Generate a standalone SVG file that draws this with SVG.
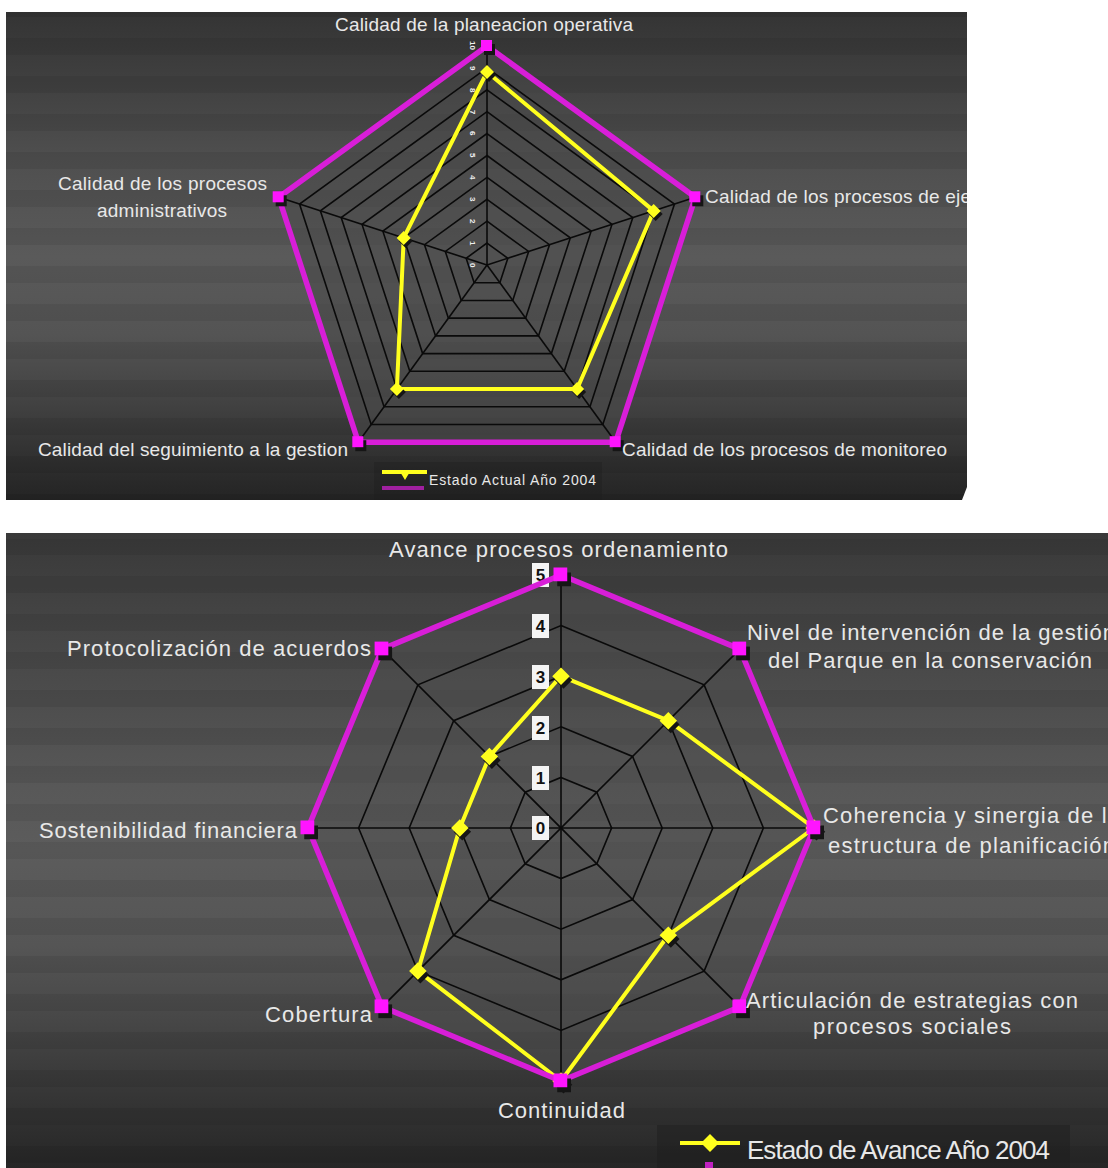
<svg xmlns="http://www.w3.org/2000/svg" xmlns:xlink="http://www.w3.org/1999/xlink" width="1108" height="1168" viewBox="0 0 1108 1168">
<style>
.lbl{font-family:"Liberation Sans",Arial,sans-serif;fill:#e8e8e8;}
.l1{font-size:19px;}
.l2{font-size:22px;}
.ring{fill:none;stroke:#0a0a0a;stroke-width:1.6;}
.spoke{stroke:#0a0a0a;stroke-width:1.6;}
.mag{fill:none;stroke:#d81ed8;stroke-width:5.5;stroke-linejoin:round;}
.yel{fill:none;stroke:#ffff1e;stroke-width:4;stroke-linejoin:round;}
.tick{font-family:"Liberation Sans",Arial,sans-serif;font-size:8px;font-weight:bold;fill:#f0f0f0;}
.tick2{font-family:"Liberation Sans",Arial,sans-serif;font-size:17px;font-weight:bold;fill:#111;}
</style>
<defs>
<linearGradient id="bg1" x1="0" y1="0" x2="0" y2="1">
<stop offset="0" stop-color="#343434"/><stop offset="0.12" stop-color="#3e3e3e"/><stop offset="0.3" stop-color="#4f4f4f"/><stop offset="0.5" stop-color="#5a5a5a"/><stop offset="0.66" stop-color="#545454"/><stop offset="0.8" stop-color="#424242"/><stop offset="0.92" stop-color="#2f2f2f"/><stop offset="1" stop-color="#242424"/>
</linearGradient>
<linearGradient id="bg2" x1="0" y1="0" x2="0" y2="1">
<stop offset="0" stop-color="#393939"/><stop offset="0.12" stop-color="#434343"/><stop offset="0.25" stop-color="#4c4c4c"/><stop offset="0.4" stop-color="#585858"/><stop offset="0.5" stop-color="#5c5c5c"/><stop offset="0.65" stop-color="#555555"/><stop offset="0.76" stop-color="#484848"/><stop offset="0.87" stop-color="#383838"/><stop offset="1" stop-color="#262626"/>
</linearGradient>
<pattern id="stripes" width="20" height="38" patternUnits="userSpaceOnUse">
<rect width="20" height="17" fill="#000" opacity="0.07"/>
</pattern>
<clipPath id="clip1"><rect x="6" y="12" width="961" height="488"/></clipPath>
<polygon id="pent" points="0,-219 208.3,-67.7 128.7,177.2 -128.7,177.2 -208.3,-67.7" vector-effect="non-scaling-stroke"/>
<polygon id="oct" points="0,-253 178.9,-178.9 253,0 178.9,178.9 0,253 -178.9,178.9 -253,0 -178.9,-178.9" vector-effect="non-scaling-stroke"/>
<g id="mkM"><rect x="-3" y="-2" width="11" height="11" fill="#151515"/><rect x="-6" y="-6" width="11" height="11" fill="#ff14ff"/></g>
<g id="mkY"><path d="M2,-4 L9,3 L2,10 L-5,3Z" fill="#151515"/><path d="M0,-7 L7,0 L0,7 L-7,0Z" fill="#ffff1e"/></g>
</defs>

<!-- Chart 1 -->
<g id="chart1" clip-path="url(#clip1)">
<g id="c1-background">
<rect x="6" y="12" width="961" height="488" fill="url(#bg1)"/>
<rect x="6" y="12" width="961" height="488" fill="url(#stripes)"/>
</g>
<g id="c1-grid">
<use href="#pent" transform="translate(487 265)" fill="#4a4a4a" fill-opacity="0.55" stroke="none"/>
<use href="#pent" class="ring" transform="translate(487 265) scale(0.1)"/>
<use href="#pent" class="ring" transform="translate(487 265) scale(0.2)"/>
<use href="#pent" class="ring" transform="translate(487 265) scale(0.3)"/>
<use href="#pent" class="ring" transform="translate(487 265) scale(0.4)"/>
<use href="#pent" class="ring" transform="translate(487 265) scale(0.5)"/>
<use href="#pent" class="ring" transform="translate(487 265) scale(0.6)"/>
<use href="#pent" class="ring" transform="translate(487 265) scale(0.7)"/>
<use href="#pent" class="ring" transform="translate(487 265) scale(0.8)"/>
<use href="#pent" class="ring" transform="translate(487 265) scale(0.9)"/>
<use href="#pent" class="ring" transform="translate(487 265)"/>
</g>
<g id="c1-connectors">
<line class="spoke" x1="487" y1="265" x2="487" y2="46"/>
<line class="spoke" x1="487" y1="265" x2="695.3" y2="197.3"/>
<line class="spoke" x1="487" y1="265" x2="615.7" y2="442.2"/>
<line class="spoke" x1="487" y1="265" x2="358.3" y2="442.2"/>
<line class="spoke" x1="487" y1="265" x2="278.7" y2="197.3"/>
</g>
<g id="c1-ticks" class="tick">
<text transform="translate(470 263) rotate(90)">0</text>
<text transform="translate(470 241) rotate(90)">1</text>
<text transform="translate(470 219) rotate(90)">2</text>
<text transform="translate(470 197) rotate(90)">3</text>
<text transform="translate(470 175) rotate(90)">4</text>
<text transform="translate(470 153) rotate(90)">5</text>
<text transform="translate(470 131) rotate(90)">6</text>
<text transform="translate(470 110) rotate(90)">7</text>
<text transform="translate(470 88) rotate(90)">8</text>
<text transform="translate(470 66) rotate(90)">9</text>
<text transform="translate(470 41) rotate(90)">10</text>
</g>
<g id="c1-series-2004">
<polygon class="yel" points="487,72 653.7,210.9 577.1,389 396.9,389 403.7,237.9"/>
<use href="#mkY" x="487" y="72"/>
<use href="#mkY" x="653.7" y="210.9"/>
<use href="#mkY" x="577.1" y="389"/>
<use href="#mkY" x="396.9" y="389"/>
<use href="#mkY" x="403.7" y="237.9"/>
</g>
<g id="c1-series-max">
<polygon class="mag" points="487,46 695.3,197.3 615.7,442.2 358.3,442.2 278.7,197.3"/>
<use href="#mkM" x="487" y="46"/>
<use href="#mkM" x="695.3" y="197.3"/>
<use href="#mkM" x="615.7" y="442.2"/>
<use href="#mkM" x="358.3" y="442.2"/>
<use href="#mkM" x="278.7" y="197.3"/>
</g>
<g id="c1-axis-planeacion"><text class="lbl l1" x="335" y="31" textLength="298">Calidad de la planeacion operativa</text></g>
<g id="c1-axis-ejecucion"><text class="lbl l1" x="705" y="203" textLength="266">Calidad de los procesos de eje</text></g>
<g id="c1-axis-monitoreo"><text class="lbl l1" x="622" y="456" textLength="325">Calidad de los procesos de monitoreo</text></g>
<g id="c1-axis-seguimiento"><text class="lbl l1" x="38" y="456" textLength="310">Calidad del seguimiento a la gestion</text></g>
<g id="c1-axis-administrativos">
<text class="lbl l1" x="58" y="190" textLength="209">Calidad de los procesos</text>
<text class="lbl l1" x="97" y="217" textLength="130">administrativos</text>
</g>
<g id="c1-legend">
<rect x="374" y="462" width="228" height="38" fill="#1e1e1e" opacity="0.35"/>
<line x1="382" y1="472" x2="427" y2="472" stroke="#ffff1e" stroke-width="4"/>
<path d="M399,470 L411,470 L405,480Z" fill="#ffff1e"/>
<line x1="382" y1="488" x2="424" y2="488" stroke="#c020c0" stroke-width="4" opacity="0.8"/>
<text class="lbl" x="429" y="485" font-size="14" textLength="167">Estado Actual Año 2004</text>
</g>
<path d="M962,500 L967,500 L967,487Z" fill="#ffffff"/>
</g>

<!-- Chart 2 -->
<g id="chart2">
<g id="c2-background">
<rect x="6" y="533" width="1102" height="635" fill="url(#bg2)"/>
<rect x="6" y="533" width="1102" height="635" fill="url(#stripes)" transform="translate(0 6)"/>
</g>
<g id="c2-grid">
<use href="#oct" transform="translate(561 828)" fill="#4e4e4e" fill-opacity="0.45" stroke="none"/>
<use href="#oct" class="ring" transform="translate(561 828) scale(0.2)"/>
<use href="#oct" class="ring" transform="translate(561 828) scale(0.4)"/>
<use href="#oct" class="ring" transform="translate(561 828) scale(0.6)"/>
<use href="#oct" class="ring" transform="translate(561 828) scale(0.8)"/>
<use href="#oct" class="ring" transform="translate(561 828)"/>
</g>
<g id="c2-connectors">
<line class="spoke" x1="561" y1="575" x2="561" y2="1081" stroke-width="2.2"/>
<line class="spoke" x1="308" y1="828" x2="814" y2="828" stroke-width="2"/>
<line class="spoke" x1="382.1" y1="649.1" x2="739.9" y2="1006.9"/>
<line class="spoke" x1="739.9" y1="649.1" x2="382.1" y2="1006.9"/>
</g>
<g id="c2-ticks">
<rect x="532" y="816" width="17" height="24" fill="#f4f4f4"/><text class="tick2" x="540.5" y="834" text-anchor="middle">0</text>
<rect x="532" y="766" width="17" height="24" fill="#f4f4f4"/><text class="tick2" x="540.5" y="784" text-anchor="middle">1</text>
<rect x="532" y="716" width="17" height="24" fill="#f4f4f4"/><text class="tick2" x="540.5" y="734" text-anchor="middle">2</text>
<rect x="532" y="665" width="17" height="24" fill="#f4f4f4"/><text class="tick2" x="540.5" y="683" text-anchor="middle">3</text>
<rect x="532" y="614" width="17" height="24" fill="#f4f4f4"/><text class="tick2" x="540.5" y="632" text-anchor="middle">4</text>
<rect x="532" y="563" width="17" height="24" fill="#f4f4f4"/><text class="tick2" x="540.5" y="581" text-anchor="middle">5</text>
</g>
<g id="c2-series-2004">
<polygon class="yel" stroke-width="5" points="561,676.2 668.3,720.7 814,828 668.3,935.3 561,1081 417.9,971.1 459.8,828 489.4,756.4"/>
<use href="#mkY" transform="translate(561 676.2) scale(1.25)"/>
<use href="#mkY" transform="translate(668.3 720.7) scale(1.25)"/>
<use href="#mkY" transform="translate(814 828) scale(1.25)"/>
<use href="#mkY" transform="translate(668.3 935.3) scale(1.25)"/>
<use href="#mkY" transform="translate(561 1081) scale(1.25)"/>
<use href="#mkY" transform="translate(417.9 971.1) scale(1.25)"/>
<use href="#mkY" transform="translate(459.8 828) scale(1.25)"/>
<use href="#mkY" transform="translate(489.4 756.4) scale(1.25)"/>
</g>
<g id="c2-series-max">
<polygon class="mag" stroke-width="6.5" points="561,575 739.9,649.1 814,828 739.9,1006.9 561,1081 382.1,1006.9 308,828 382.1,649.1"/>
<use href="#mkM" transform="translate(561 575) scale(1.25)"/>
<use href="#mkM" transform="translate(739.9 649.1) scale(1.25)"/>
<use href="#mkM" transform="translate(814 828) scale(1.25)"/>
<use href="#mkM" transform="translate(739.9 1006.9) scale(1.25)"/>
<use href="#mkM" transform="translate(561 1081) scale(1.25)"/>
<use href="#mkM" transform="translate(382.1 1006.9) scale(1.25)"/>
<use href="#mkM" transform="translate(308 828) scale(1.25)"/>
<use href="#mkM" transform="translate(382.1 649.1) scale(1.25)"/>
</g>
<g id="c2-axis-ordenamiento"><text class="lbl l2" x="389" y="557" textLength="339">Avance procesos ordenamiento</text></g>
<g id="c2-axis-intervencion">
<text class="lbl l2" x="747" y="640" textLength="368">Nivel de intervención de la gestión</text>
<text class="lbl l2" x="768" y="668" textLength="324">del Parque en la conservación</text>
</g>
<g id="c2-axis-coherencia">
<text class="lbl l2" x="823" y="823" textLength="297">Coherencia y sinergia de la</text>
<text class="lbl l2" x="828" y="853" textLength="287">estructura de planificación</text>
</g>
<g id="c2-axis-articulacion">
<text class="lbl l2" x="746" y="1008" textLength="332">Articulación de estrategias con</text>
<text class="lbl l2" x="813" y="1034" textLength="198">procesos sociales</text>
</g>
<g id="c2-axis-continuidad"><text class="lbl l2" x="498" y="1118" textLength="127">Continuidad</text></g>
<g id="c2-axis-cobertura"><text class="lbl l2" x="265" y="1022" textLength="107">Cobertura</text></g>
<g id="c2-axis-sostenibilidad"><text class="lbl l2" x="39" y="838" textLength="258">Sostenibilidad financiera</text></g>
<g id="c2-axis-protocolizacion"><text class="lbl l2" x="67" y="656" textLength="304">Protocolización de acuerdos</text></g>
<g id="c2-legend">
<rect x="657" y="1125" width="413" height="43" fill="#1c1c1c" opacity="0.45"/>
<line x1="680" y1="1143" x2="740" y2="1143" stroke="#ffff1e" stroke-width="4"/>
<path d="M710,1134 L719,1143 L710,1152 L701,1143Z" fill="#ffff1e"/>
<rect x="705" y="1162" width="8" height="6" fill="#c020c0"/>
<text class="lbl" x="747" y="1159" font-size="26" textLength="303">Estado de Avance Año 2004</text>
</g>
</g>
</svg>
